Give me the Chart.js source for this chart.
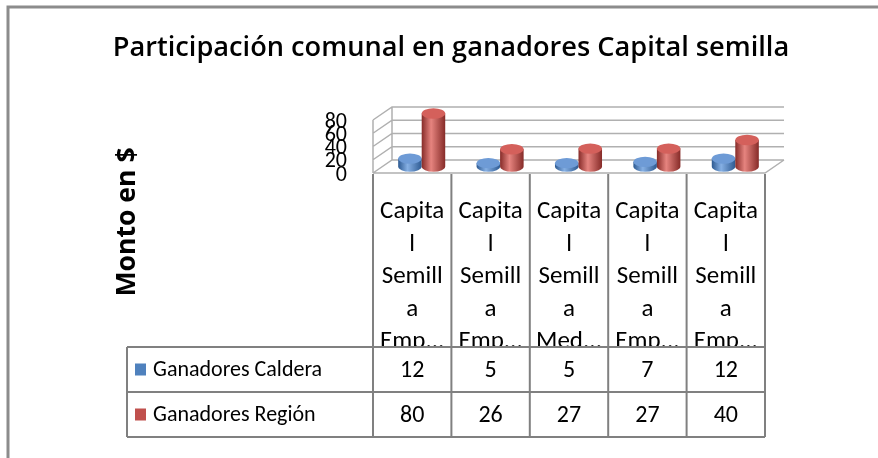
<!DOCTYPE html>
<html>
<head>
<meta charset="utf-8">
<script src="https://cdn.jsdelivr.net/npm/chart.js@4.4.1/dist/chart.umd.min.js"></script>
<style>
  html, body { margin: 0; padding: 0; background: #fff; }
  #wrap { width: 878px; height: 458px; position: relative; }
</style>
</head>
<body>
<div id="wrap"><canvas id="chart"></canvas></div>
<script>
// data
const categories = [
    ['Capita', 'l', 'Semill', 'a', 'Emp...'],
    ['Capita', 'l', 'Semill', 'a', 'Emp...'],
    ['Capita', 'l', 'Semill', 'a', 'Med...'],
    ['Capita', 'l', 'Semill', 'a', 'Emp...'],
    ['Capita', 'l', 'Semill', 'a', 'Emp...']
];
const seriesNames = ['Ganadores Caldera', 'Ganadores Región'];
const caldera = [12, 5, 5, 7, 12];
const region = [80, 26, 27, 27, 40];
const yTicks = [0, 20, 40, 60, 80];

const FONT = 'Carlito, Lato, "Liberation Sans", sans-serif';
const TITLE_FONT = '"Open Sans", "Noto Sans", sans-serif';
const DEPTH_X = 19, DEPTH_Y = -13;
const cylColors = [
    { dark: '#2d5a92', light: '#86b0e4', top: '#6e9bd6' },
    { dark: '#862b28', light: '#e6847f', top: '#d4605b' }
];

// pick a font size so the text spans roughly the given width
function fitFont(ctx, text, width, weight, family) {
    ctx.font = `${weight} 100px ${family}`;
    const size = 100 * width / ctx.measureText(text).width;
    ctx.font = `${weight} ${size.toFixed(1)}px ${family}`;
}

function cylinder(ctx, cx, top, bottom, w, c) {
    const rx = w / 2, ry = w * 0.22;
    const g = ctx.createLinearGradient(cx - rx, 0, cx + rx, 0);
    g.addColorStop(0, c.dark);
    g.addColorStop(0.4, c.light);
    g.addColorStop(1, c.dark);
    ctx.fillStyle = g;
    ctx.beginPath();
    ctx.moveTo(cx - rx, top);
    ctx.lineTo(cx - rx, bottom);
    ctx.ellipse(cx, bottom, rx, ry, 0, Math.PI, 0, true);
    ctx.lineTo(cx + rx, top);
    ctx.closePath();
    ctx.fill();
    ctx.fillStyle = c.top;
    ctx.beginPath();
    ctx.ellipse(cx, top, rx, ry, 0, 0, Math.PI * 2);
    ctx.fill();
}

const excel3d = {
    id: 'excel3d',
    beforeDatasetsDraw(chart) {
        const { ctx, chartArea: a } = chart;
        const y = chart.scales.y;
        ctx.save();
        // outer frame
        ctx.strokeStyle = '#8c8c8c';
        ctx.lineWidth = 3;
        ctx.beginPath();
        ctx.moveTo(8, 458); ctx.lineTo(8, 7); ctx.lineTo(878, 7);
        ctx.stroke();

        // title
        ctx.fillStyle = '#000';
        ctx.textAlign = 'center';
        ctx.textBaseline = 'middle';
        const title = 'Participación comunal en ganadores Capital semilla';
        fitFont(ctx, title, 678, '600', TITLE_FONT);
        ctx.fillText(title, 451, 48);

        // axis title
        ctx.save();
        ctx.translate(127, 222);
        ctx.rotate(-Math.PI / 2);
        fitFont(ctx, 'Monto en $', 149, 'bold', TITLE_FONT);
        ctx.fillText('Monto en $', 0, 0);
        ctx.restore();

        // walls and floor
        ctx.strokeStyle = '#b0b0b0';
        ctx.lineWidth = 1.5;
        ctx.beginPath();
        ctx.moveTo(a.left, a.bottom); ctx.lineTo(a.right, a.bottom);
        ctx.lineTo(a.right + DEPTH_X, a.bottom + DEPTH_Y);
        ctx.moveTo(a.left, a.bottom); ctx.lineTo(a.left, a.top);
        ctx.moveTo(a.left + DEPTH_X, a.bottom + DEPTH_Y); ctx.lineTo(a.left + DEPTH_X, a.top + DEPTH_Y);
        yTicks.forEach(v => {
            const py = y.getPixelForValue(v);
            ctx.moveTo(a.left, py);
            ctx.lineTo(a.left + DEPTH_X, py + DEPTH_Y);
            ctx.lineTo(a.right + DEPTH_X, py + DEPTH_Y);
        });
        ctx.stroke();

        // y tick labels
        ctx.fillStyle = '#000';
        ctx.font = '22px ' + FONT;
        ctx.textAlign = 'right';
        yTicks.forEach(v => {
            ctx.fillText(String(v), 347, y.getPixelForValue(v) + 2);
        });
        ctx.restore();
    },
    afterDatasetsDraw(chart) {
        const { ctx, chartArea: a } = chart;
        const x = chart.scales.x;
        ctx.save();
        const n = categories.length;
        for (let i = 0; i < n; i++) {
            chart.data.datasets.forEach((ds, d) => {
                const el = chart.getDatasetMeta(d).data[i];
                cylinder(ctx, el.x + DEPTH_X / 2, el.y + DEPTH_Y / 2, el.base + DEPTH_Y / 2, el.width, cylColors[d]);
            });
        }

        // data table
        const rowTop = 347, rowMid = 392, rowBot = 437, tableLeft = 127;
        const bounds = [a.left];
        for (let i = 0; i < n - 1; i++) bounds.push((x.getPixelForValue(i) + x.getPixelForValue(i + 1)) / 2);
        bounds.push(a.right);

        ctx.fillStyle = '#000';
        ctx.textAlign = 'center';
        ctx.textBaseline = 'alphabetic';
        ctx.font = '25px ' + FONT;
        for (let i = 0; i < n; i++) {
            ctx.save();
            ctx.beginPath();
            ctx.rect(bounds[i], a.bottom, bounds[i + 1] - bounds[i], rowTop - a.bottom);
            ctx.clip();
            categories[i].forEach((line, k) => {
                ctx.fillText(line, x.getPixelForValue(i), 218 + k * 32.5);
            });
            ctx.restore();
        }

        ctx.textBaseline = 'middle';
        const rows = [caldera, region];
        const rowY = [(rowTop + rowMid) / 2, (rowMid + rowBot) / 2];
        rows.forEach((vals, r) => {
            ctx.font = '24px ' + FONT;
            vals.forEach((v, i) => ctx.fillText(String(v), x.getPixelForValue(i), rowY[r] + 1));
            ctx.fillStyle = r === 0 ? '#4f81bd' : '#c0504d';
            ctx.fillRect(135, rowY[r] - 6, 11, 12);
            ctx.fillStyle = '#000';
            ctx.textAlign = 'left';
            ctx.font = '22px ' + FONT;
            ctx.fillText(seriesNames[r], 153, rowY[r] + 1);
            ctx.textAlign = 'center';
        });

        ctx.strokeStyle = '#808080';
        ctx.lineWidth = 2;
        ctx.beginPath();
        [rowTop, rowMid, rowBot].forEach(py => { ctx.moveTo(tableLeft, py); ctx.lineTo(a.right, py); });
        ctx.moveTo(tableLeft, rowTop); ctx.lineTo(tableLeft, rowBot);
        bounds.forEach(bx => { ctx.moveTo(bx, a.bottom + 1); ctx.lineTo(bx, rowBot); });
        ctx.stroke();
        ctx.restore();
    }
};

new Chart(document.getElementById('chart'), {
    type: 'bar',
    data: {
        labels: categories,
        datasets: [
            { label: seriesNames[0], data: caldera, backgroundColor: 'rgba(0,0,0,0)' },
            { label: seriesNames[1], data: region, backgroundColor: 'rgba(0,0,0,0)' }
        ]
    },
    options: {
        responsive: true,
        maintainAspectRatio: false,
        animation: false,
        devicePixelRatio: 1,
        layout: { padding: { left: 373, right: 113, top: 120, bottom: 285 } },
        datasets: { bar: { categoryPercentage: 0.6, barPercentage: 1.0 } },
        plugins: { legend: { display: false }, tooltip: { enabled: false }, title: { display: false } },
        scales: {
            x: { display: false },
            y: { display: false, min: 0, max: 80, ticks: { stepSize: 20 } }
        }
    },
    plugins: [excel3d]
});
</script>
</body>
</html>
